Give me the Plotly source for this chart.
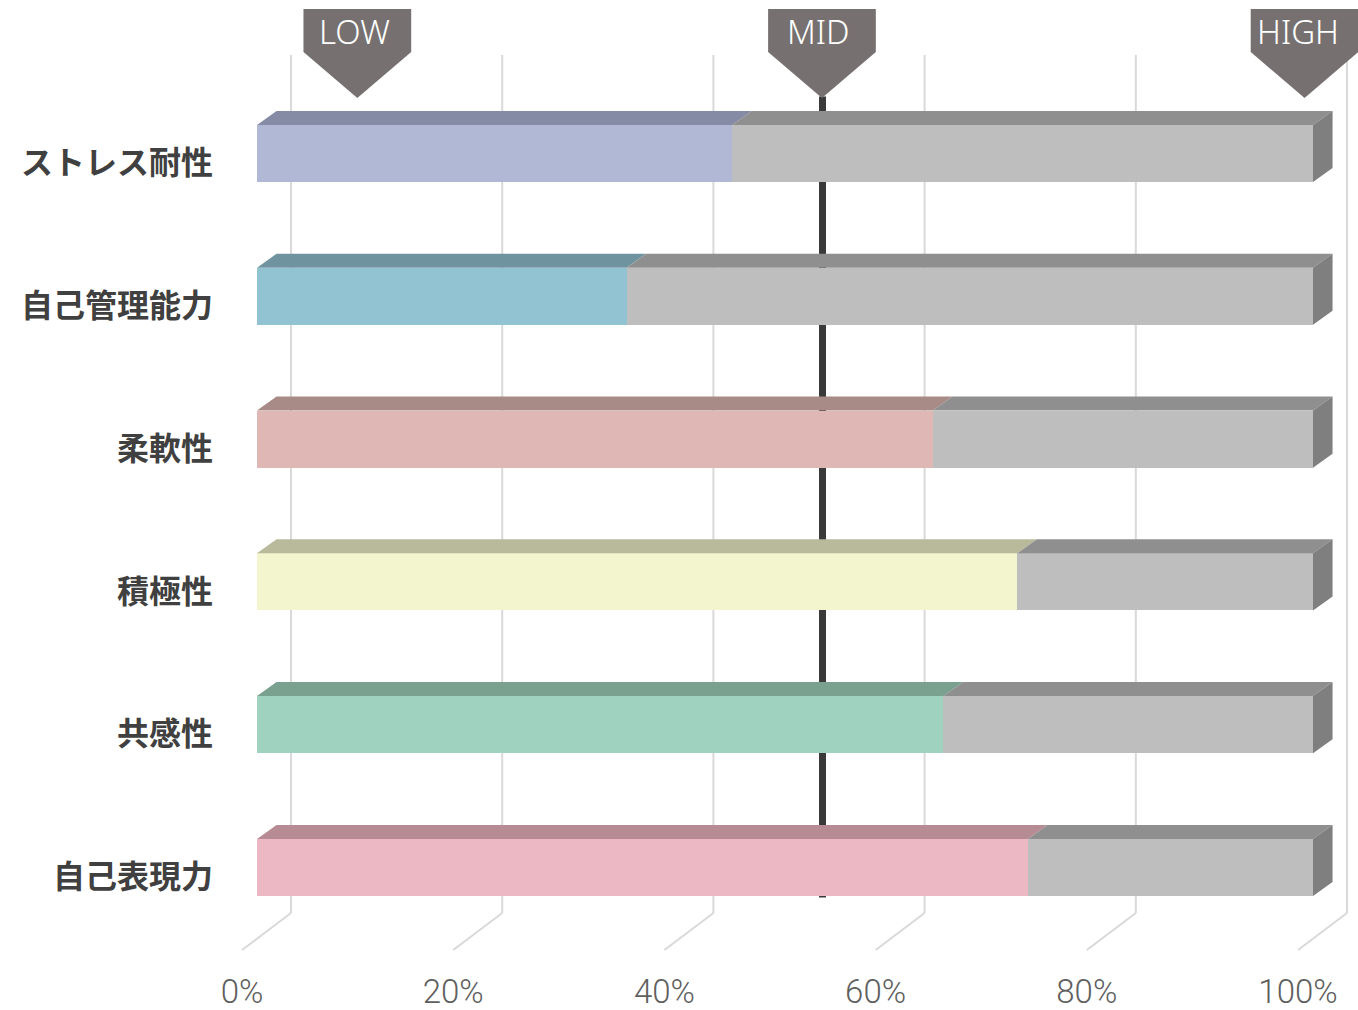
import plotly.graph_objects as go

# ---------------- data ----------------
categories = ["ストレス耐性", "自己管理能力", "柔軟性", "積極性", "共感性", "自己表現力"]
scores = [45, 35, 64, 72, 65, 73]           # % (coloured part)
front_colors = ["#B0B8D6", "#92C3D3", "#DFB8B6", "#F2F5CE", "#A0D3BF", "#ECB8C3"]
top_colors = ["#868BA5", "#6F949F", "#A88B86", "#B9BA9C", "#7AA090", "#B68B94"]
rest_front, rest_top, rest_side = "#BEBEBE", "#8F8F8F", "#7F7F7F"
x_ticks = [0, 20, 40, 60, 80, 100]
x_ticktext = ["0%", "20%", "40%", "60%", "80%", "100%"]
level_names = ["LOW", "MID", "HIGH"]
level_pos = [9.5, 53.5, 99.2]               # positions of the level markers (bar scale)
mid_level = 53.55                            # the vertical MID line

# ---------------- 3D geometry (axis units) ----------------
W = 0.40          # bar thickness (category units)
DX, DY = 1.85, 0.098      # depth of a bar
WALL_DX = 3.22            # back wall offset
FLOOR_FRONT_DX, FLOOR_FRONT_Y = -1.42, 5.578
FLOOR_BACK_Y = 5.319
GRID_TOP_Y = -0.69

n = len(categories)
ypos = list(range(n))
rest = [100 - s for s in scores]

fig = go.Figure()

# front faces
fig.add_trace(go.Bar(y=ypos, x=scores, base=0, orientation="h", width=W,
                     marker=dict(color=front_colors, line=dict(width=0)),
                     hoverinfo="skip"))
fig.add_trace(go.Bar(y=ypos, x=rest, base=scores, orientation="h", width=W,
                     marker=dict(color=rest_front, line=dict(width=0)),
                     hoverinfo="skip"))

# top and side faces
for i, (s, tc) in enumerate(zip(scores, top_colors)):
    yft = i - W / 2
    ybt = yft - DY
    yfb = i + W / 2
    fig.add_trace(go.Scatter(x=[0, s, s + DX, DX, 0], y=[yft, yft, ybt, ybt, yft],
                             fill="toself", fillcolor=tc, mode="lines",
                             line=dict(width=0, color=tc), hoverinfo="skip"))
    fig.add_trace(go.Scatter(x=[s, 100, 100 + DX, s + DX, s], y=[yft, yft, ybt, ybt, yft],
                             fill="toself", fillcolor=rest_top, mode="lines",
                             line=dict(width=0, color=rest_top), hoverinfo="skip"))
    fig.add_trace(go.Scatter(x=[100, 100 + DX, 100 + DX, 100, 100],
                             y=[yft, ybt, yfb - DY, yfb, yft],
                             fill="toself", fillcolor=rest_side, mode="lines",
                             line=dict(width=0, color=rest_side), hoverinfo="skip"))

shapes = []
# back wall gridlines + floor diagonals
for t in x_ticks:
    shapes.append(dict(type="line", xref="x", yref="y", layer="below",
                       x0=t + WALL_DX, x1=t + WALL_DX, y0=GRID_TOP_Y, y1=FLOOR_BACK_Y,
                       line=dict(color="#D9D9D9", width=2)))
    shapes.append(dict(type="line", xref="x", yref="y", layer="below",
                       x0=t + WALL_DX, x1=t + FLOOR_FRONT_DX, y0=FLOOR_BACK_Y, y1=FLOOR_FRONT_Y,
                       line=dict(color="#D9D9D9", width=2)))
# MID line
shapes.append(dict(type="line", xref="x", yref="y", layer="below",
                   x0=mid_level, x1=mid_level, y0=-0.40, y1=n - 1 + W / 2 + 0.01,
                   line=dict(color="#3A3A3A", width=7)))

# level markers (pentagon arrows)
BOX_W = 10.2
BOX_TOP, BOX_BOT, TIP = -1.012, -0.711, -0.389
text_shift = [-3, -3, -7]
annotations = []
for name, p, sh in zip(level_names, level_pos, text_shift):
    l, r = p - BOX_W / 2, p + BOX_W / 2
    path = f"M {l} {BOX_TOP} L {r} {BOX_TOP} L {r} {BOX_BOT} L {p} {TIP} L {l} {BOX_BOT} Z"
    shapes.append(dict(type="path", xref="x", yref="y", path=path, layer="above",
                       fillcolor="#767170", line=dict(width=0)))
    annotations.append(dict(x=p, y=(BOX_TOP + BOX_BOT) / 2 + 0.005, xref="x", yref="y",
                            text=name, showarrow=False, xshift=sh,
                            font=dict(family="Noto Sans, Open Sans, sans-serif", size=33,
                                      color="white", weight=300)))

fig.update_layout(
    width=1358, height=1010,
    margin=dict(l=220, r=0, t=0, b=50),
    paper_bgcolor="white", plot_bgcolor="white",
    showlegend=False, barmode="overlay", bargap=0,
    shapes=shapes, annotations=annotations,
    xaxis=dict(range=[-3.504, 104.26], showgrid=False, zeroline=False, showline=False,
               tickvals=[t + FLOOR_FRONT_DX for t in x_ticks], ticktext=x_ticktext,
               ticks="", ticklabelstandoff=9,
               tickfont=dict(family="Roboto, sans-serif", size=33,
                             color="#5F5F5F", weight=300)),
    yaxis=dict(range=[5.648, -1.075], showgrid=False, zeroline=False, showline=False,
               tickvals=[i + 0.066 for i in ypos], ticktext=categories,
               ticks="", ticklabelstandoff=6,
               tickfont=dict(family="Noto Sans CJK JP, sans-serif", size=32,
                             color="#404040", weight="bold")),
)

fig.write_html("out.html")
